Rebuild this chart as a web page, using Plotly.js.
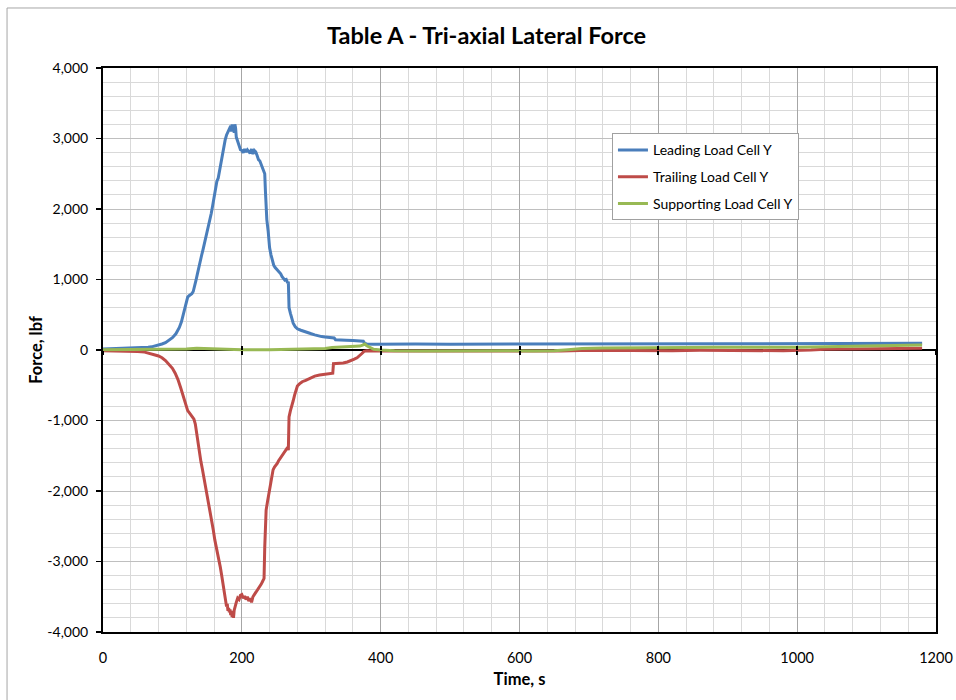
<!DOCTYPE html>
<html>
<head>
<meta charset="utf-8">
<script src="https://cdn.plot.ly/plotly-3.0.1.min.js"></script>
<style>
  html, body { margin: 0; padding: 0; background: #ffffff; }
  #chart { width: 956px; height: 700px; }
</style>
</head>
<body>
<div id="chart"></div>
<script>
// Lateral load cell readings, Table A (time in s, force in lbf)
const leadingTime = [0, 10, 20, 30, 40, 50, 55, 60, 65, 70, 75, 80, 85, 90, 95, 100, 105, 110, 113, 116, 118, 120, 122, 124, 126, 128, 130, 132, 134, 136, 138, 140, 142, 144, 146, 148, 150, 152, 154, 156, 158, 160, 162, 164, 166, 168, 170, 172, 174, 176, 178, 180, 182, 184, 185, 186, 187, 188, 189, 190, 191, 192, 194, 196, 198, 200, 202, 204, 206, 208, 210, 212, 214, 216, 218, 220, 222, 224, 226, 228, 230, 232, 233, 234, 235, 236, 238, 240, 242, 244, 246, 248, 250, 252, 254, 256, 258, 260, 262, 264, 266, 267, 268, 270, 272, 274, 277, 280, 285, 290, 295, 300, 305, 310, 315, 320, 325, 330, 333, 335, 340, 350, 360, 370, 375, 377, 380, 390, 400, 450, 500, 550, 600, 650, 700, 750, 800, 850, 900, 950, 1000, 1050, 1100, 1150, 1180];
const leadingForce = [15, 18, 20, 22, 25, 30, 35, 38, 40, 45, 55, 70, 85, 105, 135, 175, 230, 320, 400, 520, 600, 680, 750, 770, 780, 800, 830, 900, 990, 1080, 1180, 1260, 1340, 1420, 1500, 1580, 1680, 1760, 1860, 1940, 2050, 2180, 2300, 2390, 2440, 2560, 2650, 2760, 2880, 2980, 3050, 3090, 3120, 3180, 3100, 3200, 3130, 3190, 3080, 3200, 3150, 3020, 2960, 2880, 2840, 2830, 2800, 2850, 2810, 2840, 2820, 2790, 2850, 2780, 2830, 2810, 2760, 2700, 2680, 2630, 2600, 2550, 2500, 2250, 2000, 1850, 1680, 1450, 1350, 1260, 1200, 1170, 1150, 1130, 1100, 1080, 1040, 1010, 990, 1000, 950, 970, 600, 520, 440, 380, 330, 300, 280, 260, 245, 230, 215, 200, 190, 185, 180, 175, 170, 145, 140, 140, 135, 130, 125, 95, 85, 80, 82, 85, 83, 85, 84, 83, 85, 88, 90, 88, 90, 88, 90, 88, 92, 95, 95];

const trailingTime = [0, 20, 40, 50, 60, 65, 70, 75, 80, 85, 90, 95, 100, 104, 108, 112, 115, 118, 120, 122, 125, 128, 131, 133, 135, 137, 139, 141, 143, 145, 147, 149, 151, 153, 155, 157, 159, 161, 163, 165, 167, 169, 171, 173, 175, 177, 178, 179, 180, 181, 182, 183, 184, 185, 186, 187, 188, 189, 190, 192, 194, 196, 198, 200, 202, 204, 206, 208, 210, 212, 214, 216, 218, 220, 222, 224, 226, 228, 230, 232, 233, 234, 235, 237, 239, 241, 243, 245, 247, 249, 251, 253, 255, 257, 259, 261, 263, 265, 266, 267, 268, 270, 272, 274, 276, 278, 280, 283, 287, 292, 298, 305, 312, 320, 327, 331, 332, 340, 346, 352, 358, 362, 366, 370, 373, 376, 380, 390, 420, 460, 500, 540, 580, 620, 660, 700, 740, 780, 820, 860, 900, 940, 980, 1020, 1040, 1080, 1120, 1160, 1180];
const trailingForce = [-10, -12, -15, -20, -30, -40, -55, -70, -85, -110, -150, -200, -260, -330, -420, -540, -640, -740, -810, -860, -900, -940, -980, -1050, -1200, -1330, -1450, -1580, -1680, -1790, -1880, -1970, -2080, -2180, -2300, -2420, -2560, -2690, -2780, -2870, -2950, -3080, -3200, -3310, -3440, -3560, -3640, -3600, -3700, -3660, -3720, -3680, -3760, -3700, -3790, -3720, -3800, -3690, -3640, -3580, -3520, -3540, -3480, -3470, -3520, -3490, -3540, -3500, -3560, -3520, -3580, -3500, -3470, -3440, -3420, -3380, -3360, -3320, -3280, -3240, -2800, -2500, -2270, -2150, -2020, -1900, -1780, -1700, -1660, -1640, -1610, -1570, -1540, -1510, -1480, -1450, -1420, -1400, -1380, -1420, -950, -860, -800, -720, -640, -570, -510, -480, -450, -430, -400, -370, -355, -340, -330, -330, -195, -190, -185, -170, -150, -130, -110, -80, -50, -20, -10, -15, -15, -20, -15, -20, -15, -20, -15, -5, -10, -5, -10, -5, -10, -5, -10, 0, 10, 15, 20, 25, 25];

const supportingTime = [0, 40, 80, 100, 120, 135, 150, 165, 200, 240, 280, 300, 320, 330, 340, 350, 360, 370, 374, 377, 380, 385, 390, 400, 420, 460, 500, 540, 580, 620, 650, 670, 690, 720, 760, 800, 840, 880, 920, 960, 1000, 1030, 1060, 1100, 1140, 1180];
const supportingForce = [5, 5, 8, 10, 15, 25, 20, 10, 5, 5, 10, 15, 20, 35, 40, 45, 50, 55, 70, 85, 60, 30, 10, 0, -10, -15, -10, -15, -10, -15, -10, 5, 20, 30, 35, 38, 35, 38, 35, 38, 40, 45, 60, 65, 70, 72];

const seriesNames = ['Leading Load Cell Y', 'Trailing Load Cell Y', 'Supporting Load Cell Y'];
const seriesColors = ['#4a7ebb', '#be4b48', '#98b954'];

const forceTicks = [-4000, -3000, -2000, -1000, 0, 1000, 2000, 3000, 4000];
const forceTickText = ['-4,000', '-3,000', '-2,000', '-1,000', '0', '1,000', '2,000', '3,000', '4,000'];
const timeTicks = [0, 200, 400, 600, 800, 1000, 1200];
const timeTickText = ['0', '200', '400', '600', '800', '1000', '1200'];

const FONT = 'Lato, "Open Sans", sans-serif';

const seriesData = [
  [leadingTime, leadingForce],
  [trailingTime, trailingForce],
  [supportingTime, supportingForce]
];

const traces = seriesData.map(function (s, i) {
  return {
    type: 'scatter',
    mode: 'lines',
    name: seriesNames[i],
    legendgroup: 'g' + i,
    x: s[0],
    y: s[1],
    line: { color: seriesColors[i], width: 3 },
    hoverinfo: 'x+y+name'
  };
});

// empty traces so the two tick-only axes on the zero line get drawn
['x2', 'x3'].forEach(function (ax) {
  traces.push({ type: 'scatter', mode: 'lines', x: [], y: [], xaxis: ax, yaxis: 'y', showlegend: false, hoverinfo: 'skip' });
});

const crossTickAxis = function (side) {
  return {
    overlaying: 'x', anchor: 'free', position: 0.5,
    range: [0, 1200], tickmode: 'array', tickvals: timeTicks,
    ticks: side, ticklen: 4, tickwidth: 2, tickcolor: '#000000',
    showticklabels: false, showgrid: false, showline: false, zeroline: false
  };
};

const layout = {
  width: 956,
  height: 700,
  margin: { l: 103, r: 20, t: 68, b: 68 },
  paper_bgcolor: '#ffffff',
  plot_bgcolor: '#ffffff',
  font: { family: FONT, color: '#000000', size: 14 },
  title: {
    text: 'Table A - Tri-axial Lateral Force',
    font: { family: FONT, size: 23.5, weight: 700, color: '#000000' },
    xref: 'container', x: 0.509, xanchor: 'center',
    yref: 'container', y: 0.949, yanchor: 'middle'
  },
  xaxis: {
    range: [0, 1200],
    tickmode: 'array', tickvals: timeTicks, ticktext: timeTickText,
    ticks: '', ticklabelstandoff: 12,
    tickfont: { family: FONT, size: 14.5 },
    showgrid: true, gridcolor: '#a6a6a6', gridwidth: 1,
    minor: { tickmode: 'linear', tick0: 0, dtick: 40, showgrid: true, gridcolor: '#d9d9d9', gridwidth: 1, ticks: '' },
    showline: true, linecolor: '#000000', linewidth: 2, mirror: true,
    zeroline: false,
    title: { text: 'Time, s', font: { family: FONT, size: 16.5, weight: 700 }, standoff: 8 }
  },
  xaxis2: crossTickAxis('outside'),
  xaxis3: crossTickAxis('inside'),
  yaxis: {
    range: [-4000, 4000],
    tickmode: 'array', tickvals: forceTicks, ticktext: forceTickText,
    ticks: 'outside', ticklen: 5, tickwidth: 1.5, tickcolor: '#000000',
    ticklabelstandoff: 5,
    tickfont: { family: FONT, size: 14 },
    showgrid: true, gridcolor: '#bfbfbf', gridwidth: 1,
    minor: { tickmode: 'linear', tick0: 0, dtick: 200, showgrid: true, gridcolor: '#d9d9d9', gridwidth: 1, ticks: '' },
    showline: true, linecolor: '#000000', linewidth: 2, mirror: true,
    zeroline: true, zerolinecolor: '#000000', zerolinewidth: 2,
    title: { text: 'Force, lbf', font: { family: FONT, size: 16.5, weight: 700 }, standoff: 1 }
  },
  legend: {
    x: 0.611, y: 0.884, xanchor: 'left', yanchor: 'top',
    bgcolor: '#ffffff', bordercolor: '#a0a0a0', borderwidth: 1,
    font: { family: FONT, size: 14, color: '#000000' },
    itemwidth: 30, tracegroupgap: 5.5, traceorder: 'grouped'
  },
  shapes: [{
    type: 'rect', xref: 'paper', yref: 'paper',
    x0: -0.1152, x1: 1.05, y0: -0.15, y1: 1.1064,
    line: { color: '#a6a6a6', width: 1 }, fillcolor: 'rgba(0,0,0,0)', layer: 'below'
  }],
  showlegend: true
};

Plotly.newPlot('chart', traces, layout, { displayModeBar: false, staticPlot: true });
</script>
</body>
</html>
